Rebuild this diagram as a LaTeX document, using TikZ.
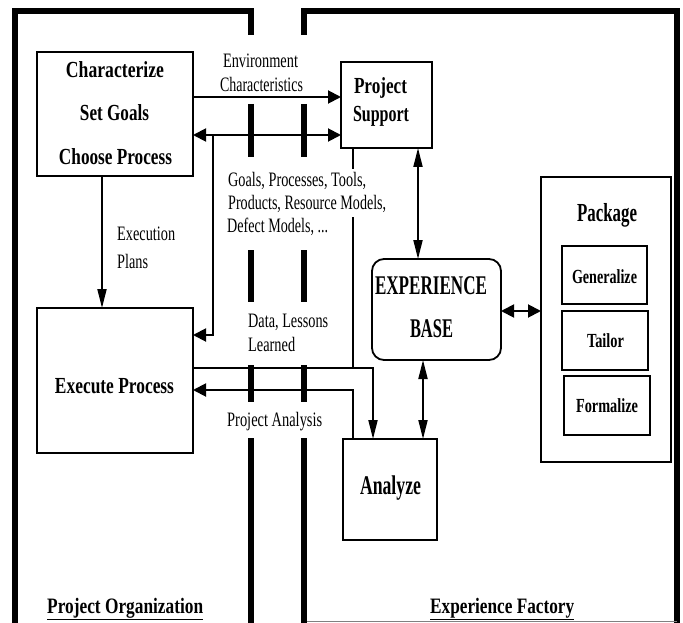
\documentclass[tikz,border=0pt]{standalone}
\usepackage{fontspec}
\setmainfont{Liberation Serif}
\usepackage{graphicx}
\usetikzlibrary{arrows.meta,calc}
\newcommand\sq[2]{\resizebox{#1pt}{\height}{#2}}
\begin{document}
\begin{tikzpicture}[x=1pt,y=-1pt,
  box/.style={draw,line width=1.8pt,inner sep=0pt,outer sep=0pt},
  ibox/.style={draw,line width=2.4pt,inner sep=0pt,outer sep=0pt},
  bt/.style={inner sep=0pt,anchor=base,font=\fontsize{23}{26}\selectfont\bfseries},
  bigt/.style={inner sep=0pt,anchor=base,font=\fontsize{27}{30}\selectfont\bfseries},
  smt/.style={inner sep=0pt,anchor=base,font=\fontsize{20}{23}\selectfont\bfseries},
  lt/.style={inner sep=0pt,anchor=base west,font=\fontsize{20.5}{23}\selectfont},
  ct/.style={inner sep=0pt,anchor=base,font=\fontsize{20.5}{23}\selectfont},
  wlt/.style={lt,fill=white,inner xsep=1pt,inner ysep=4pt},
  title/.style={inner sep=0pt,anchor=base west,font=\fontsize{22}{25}\selectfont\bfseries},
  frame/.style={line width=5.5pt,line cap=butt},
  conn/.style={line width=1.9pt},
  ha/.style={conn,-{Triangle[length=13pt,width=13pt]}},
  hab/.style={conn,{Triangle[length=13pt,width=13pt]}-{Triangle[length=13pt,width=13pt]}},
  va/.style={conn,-{Triangle[length=19pt,width=9pt]}},
  vab/.style={conn,{Triangle[length=19pt,width=9pt]}-{Triangle[length=19pt,width=9pt]}},
]
\useasboundingbox (0,0) rectangle (683,623);

% frames
\draw[frame] (15,623) -- (15,11) -- (251,11) -- (251,35);
\draw[frame] (304,35) -- (304,11) -- (677,11) -- (677,623);
\draw[line width=1pt,gray] (304,621) -- (677,621);
\foreach \a/\b in {104/157,250/302,365/402,438/623} {
  \draw[frame] (251,\a) -- (251,\b);
  \draw[frame] (304,\a) -- (304,\b);
}

% boxes
\node[box,minimum width=156pt,minimum height=124pt] (char) at (115,114) {};
\node[box,minimum width=91pt,minimum height=86pt] (ps) at (386.5,105) {};
\node[box,minimum width=156pt,minimum height=145pt] (exec) at (115,380.5) {};
\node[box,minimum width=94pt,minimum height=101pt] (ana) at (390,489.5) {};
\node[box,rounded corners=12pt,minimum width=129pt,minimum height=101pt] (eb) at (436.5,309.5) {};
\node[box,minimum width=130pt,minimum height=285pt] (pkg) at (606,319.5) {};
\node[ibox,minimum width=85pt,minimum height=58pt] (gen) at (604.5,275) {};
\node[ibox,minimum width=86pt,minimum height=59pt] (tai) at (605,340.5) {};
\node[ibox,minimum width=86pt,minimum height=59pt] (frm) at (607,405.5) {};

% connectors
\draw[ha] (char.east |- 0,97) -- (ps.west |- 0,97);
\draw[hab] (char.east |- 0,135) -- (ps.west |- 0,135);
\coordinate (br) at (213,135);
\coordinate (brc) at (213,335);
\draw[ha] (br) -- (brc) -- (exec.east |- brc);
\draw[va] (char.south -| 102,0) -- (exec.north -| 102,0);
\coordinate (dj) at (353,368);
\draw[conn] (ps.south -| dj) -- (dj);
\draw[va] (exec.east |- dj) -- (373,368) -- (ana.north -| 373,0);
\coordinate (pa) at (353,390);
\draw[ha] (ana.north -| pa) -- (pa) -- (exec.east |- pa);
\draw[vab] (ps.south -| 418,0) -- (eb.north -| 418,0);
\draw[vab] (eb.south -| 423,0) -- (ana.north -| 423,0);
\draw[hab] (eb.east |- 0,311) -- (pkg.west |- 0,311);

% box texts
\node[bt] (t1) at (115,78) {\sq{98}{Characterize}};
\node[bt] (t2) at (114.5,121) {\sq{69}{Set Goals}};
\node[bt] (t3) at (115.5,165) {\sq{113}{Choose Process}};
\node[bt] (t4) at (380.5,94) {\sq{53}{Project}};
\node[bt] (t5) at (381,122) {\sq{56}{Support}};
\node[bt] (t6) at (114.5,393) {\sq{119}{Execute Process}};
\node[bigt] (t7) at (431,294) {\sq{112}{EXPERIENCE}};
\node[bigt] (t8) at (431.5,337) {\sq{43}{BASE}};
\node[bigt] (t9) at (390.5,494) {\sq{61}{Analyze}};
\node[bigt,font=\fontsize{26}{29}\selectfont\bfseries] (t10) at (607,221) {\sq{60}{Package}};
\node[smt] (t11) at (604.5,283) {\sq{65}{Generalize}};
\node[smt] (t12) at (605.5,347) {\sq{37}{Tailor}};
\node[smt] (t13) at (607,412) {\sq{62}{Formalize}};

% labels
\node[ct] (l1) at (260.5,68) {\sq{75}{Environment}};
\node[ct] (l2) at (261.5,92) {\sq{83}{Characteristics}};
\node[wlt] (l3a) at (227,187) {\sq{138}{Goals, Processes, Tools,}};
\node[wlt] (l3b) at (227,210) {\sq{158}{Products, Resource Models,}};
\node[lt] (l3c) at (227,233) {\sq{101}{Defect Models, ...}};
\node[lt] (l4) at (248,327) {\sq{80}{Data, Lessons}};
\node[lt] (l5) at (248,351) {\sq{47}{Learned}};
\node[lt] (l6) at (227,426) {\sq{95}{Project Analysis}};
\node[lt] (l7) at (117,240) {\sq{58}{Execution}};
\node[lt] (l8) at (117,268) {\sq{31}{Plans}};
\node[title] (po) at (47,613) {\sq{156}{\underline{Project Organization}}};
\node[title] (ef) at (430,613) {\sq{144}{\underline{Experience Factory}}};
\end{tikzpicture}
\end{document}
